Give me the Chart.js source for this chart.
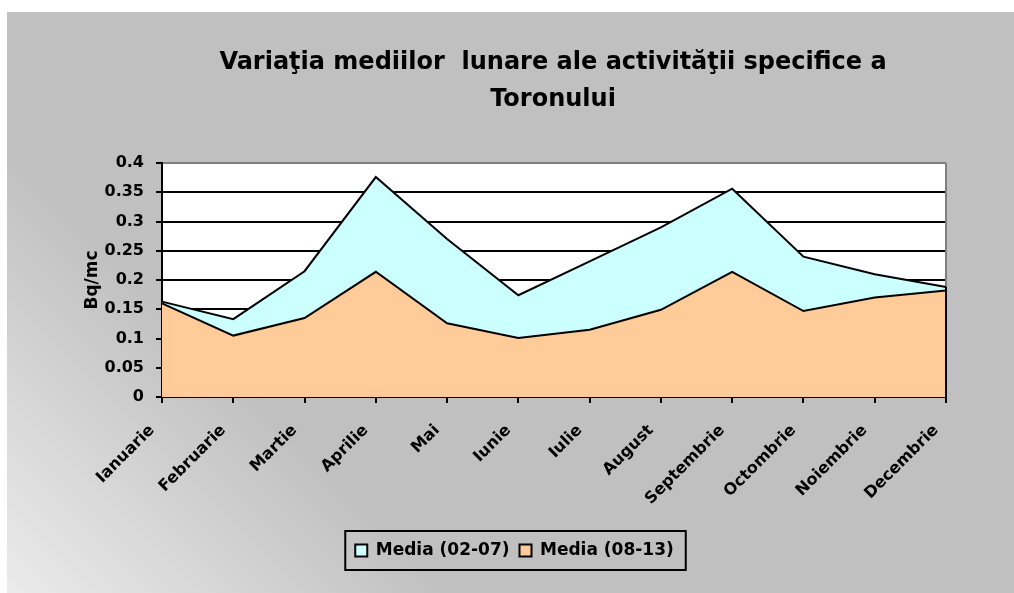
<!DOCTYPE html>
<html>
<head>
<meta charset="utf-8">
<script src="https://cdn.jsdelivr.net/npm/chart.js@4.4.0/dist/chart.umd.min.js"></script>
<style>
  html, body { margin: 0; padding: 0; background: #fff; }
  canvas { display: block; }
</style>
</head>
<body>
<canvas id="toronChart" width="1014" height="593"></canvas>
<script>
const months = ['Ianuarie', 'Februarie', 'Martie', 'Aprilie', 'Mai', 'Iunie',
                'Iulie', 'August', 'Septembrie', 'Octombrie', 'Noiembrie', 'Decembrie'];
const media0207 = [0.163, 0.133, 0.215, 0.376, 0.270, 0.174, 0.232, 0.290, 0.356, 0.240, 0.210, 0.188];
const media0813 = [0.160, 0.105, 0.135, 0.214, 0.126, 0.101, 0.115, 0.149, 0.214, 0.147, 0.170, 0.182];
const seriesNames = ['Media (02-07)', 'Media (08-13)'];
const titleLines = ['Variaţia mediilor  lunare ale activităţii specifice a', 'Toronului'];
const yAxisLabel = 'Bq/mc';

const FONT = '"DejaVu Sans", Verdana, sans-serif';
Chart.defaults.font.family = FONT;
Chart.defaults.color = '#000';

// fundal gri, zona alba a graficului, titlul, chenarul legendei
const decor = {
    id: 'decor',
    beforeDraw(chart) {
        const { ctx, width, height, chartArea: a } = chart;
        ctx.save();
        ctx.fillStyle = '#fff';
        ctx.fillRect(0, 0, width, height);
        const g = ctx.createLinearGradient(7, height, 230, height - 223);
        g.addColorStop(0, '#ebebeb');
        g.addColorStop(1, '#c0c0c0');
        ctx.fillStyle = g;
        ctx.fillRect(7, 12, width - 7, height - 12);
        ctx.fillStyle = '#fff';
        ctx.fillRect(a.left, a.top, a.right - a.left, a.bottom - a.top);

        ctx.fillStyle = '#000';
        ctx.font = 'bold 24px ' + FONT;
        ctx.textAlign = 'center';
        ctx.textBaseline = 'middle';
        titleLines.forEach((t, i) => ctx.fillText(t, 553, 63 + i * 37));
        ctx.restore();
    },
    beforeDatasetsDraw(chart) {
        const { ctx, chartArea: a } = chart;
        ctx.save();
        ctx.strokeStyle = '#808080';
        ctx.lineWidth = 2;
        ctx.beginPath();
        ctx.moveTo(a.right, a.top);
        ctx.lineTo(a.right, a.bottom);
        ctx.stroke();
        ctx.restore();
    },
    afterDatasetsDraw(chart) {
        // marginea dreapta a ariilor
        const { ctx, chartArea: a } = chart;
        const pts = chart.getSortedVisibleDatasetMetas().map(m => m.data[m.data.length - 1]);
        ctx.save();
        ctx.strokeStyle = '#000';
        ctx.lineWidth = 2;
        ctx.beginPath();
        ctx.moveTo(pts[0].x, Math.min(...pts.map(p => p.y)));
        ctx.lineTo(pts[0].x, a.bottom);
        ctx.stroke();
        ctx.restore();
    },
    afterDraw(chart) {
        const hb = chart.legend.legendHitBoxes;
        if (!hb || !hb.length) return;
        const x0 = Math.min(...hb.map(b => b.left)) - 10;
        const x1 = Math.max(...hb.map(b => b.left + b.width)) + 12;
        const y0 = hb[0].top - 11;
        const y1 = hb[0].top + hb[0].height + 11;
        const ctx = chart.ctx;
        ctx.save();
        ctx.strokeStyle = '#000';
        ctx.lineWidth = 2;
        ctx.strokeRect(x0, y0, x1 - x0, y1 - y0);
        ctx.restore();
    }
};

new Chart(document.getElementById('toronChart'), {
    type: 'line',
    data: {
        labels: months,
        datasets: [{
            label: seriesNames[0],
            data: media0207,
            backgroundColor: '#ccffff',
            borderColor: '#000',
            borderWidth: 2,
            fill: 'origin',
            pointRadius: 0,
            tension: 0,
            order: 1
        }, {
            label: seriesNames[1],
            data: media0813,
            backgroundColor: '#ffcc99',
            borderColor: '#000',
            borderWidth: 2,
            fill: 'origin',
            pointRadius: 0,
            tension: 0,
            order: 0
        }]
    },
    options: {
        responsive: false,
        animation: false,
        devicePixelRatio: 1,
        events: [],
        layout: { padding: { left: 15, top: 163, right: 0, bottom: 24 } },
        plugins: {
            title: { display: false },
            tooltip: { enabled: false },
            legend: {
                position: 'bottom',
                reverse: true,
                labels: {
                    boxWidth: 12,
                    boxHeight: 12,
                    padding: 10,
                    color: '#000',
                    font: { size: 17, weight: 'bold' }
                }
            }
        },
        scales: {
            x: {
                offset: false,
                grid: { drawOnChartArea: false, offset: false, tickLength: 6, color: '#000', lineWidth: 2 },
                border: { color: '#000', width: 2 },
                ticks: {
                    autoSkip: false,
                    maxRotation: 45,
                    minRotation: 45,
                    padding: 18,
                    labelOffset: -10,
                    color: '#000',
                    font: { size: 16, weight: 'bold' }
                },
                afterFit: s => { s.height = 135; }
            },
            y: {
                position: 'left',
                min: 0,
                max: 0.4,
                ticks: {
                    stepSize: 0.05,
                    padding: 12,
                    color: '#000',
                    font: { size: 16, weight: 'bold' },
                    callback: v => String(+v.toFixed(2))
                },
                grid: {
                    color: c => (c.tick && c.tick.value > 0.399 ? '#808080' : '#000'),
                    tickColor: '#000',
                    lineWidth: 2,
                    tickLength: 6
                },
                border: { color: '#000', width: 2 },
                title: {
                    display: true,
                    text: yAxisLabel,
                    color: '#000',
                    font: { size: 17, weight: 'bold' },
                    padding: { top: 67, bottom: 0 }
                },
                afterFit: s => { s.width = 147; }
            },
            yR: {
                position: 'right',
                display: true,
                grid: { display: false },
                border: { display: false },
                ticks: { display: false },
                afterFit: s => { s.width = 68; }
            }
        }
    },
    plugins: [decor]
});
</script>
</body>
</html>
